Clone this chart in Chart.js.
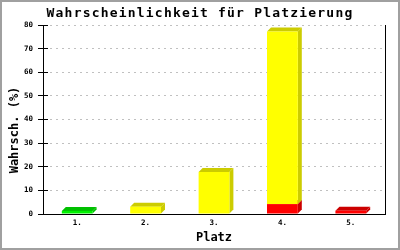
<!DOCTYPE html>
<html>
<head>
<meta charset="utf-8">
<script src="https://cdn.jsdelivr.net/npm/chart.js@4"></script>
<style>
  html, body { margin: 0; padding: 0; background: #fff; }
</style>
</head>
<body>
<canvas id="platz" width="400" height="250"></canvas>
<script>
// Daten
const places = ['1.', '2.', '3.', '4.', '5.'];
const redValues = [0, 0, 0, 4.2, 1.4];
const yellowValues = [0, 3.1, 17.8, 73.0, 0];
const greenValues = [1.3, 0, 0, 0, 0];
const yMax = 80;
const yStep = 10;

const titleText = 'Wahrscheinlichkeit für Platzierung';
const yTitleText = 'Wahrsch. (%)';
const xTitleText = 'Platz';

const mono = "'DejaVu Sans Mono', 'Liberation Mono', monospace";
const depth = 4;

function crisp(v) { return Math.round(v - 0.5) + 0.5; }

// 3D-Seiten und Deckflaechen hinter die Balken malen
const bars3d = {
    id: 'bars3d',
    beforeDatasetsDraw(chart) {
        const ctx = chart.ctx;
        ctx.save();
        chart.data.datasets.forEach((ds, i) => {
            const meta = chart.getDatasetMeta(i);
            meta.data.forEach((bar, j) => {
                if (!ds.data[j]) return;
                const p = bar.getProps(['x', 'y', 'base', 'width'], true);
                const l = p.x - p.width / 2, r = p.x + p.width / 2;
                ctx.fillStyle = ds.sideColor;
                ctx.beginPath();
                ctx.moveTo(r, p.base);
                ctx.lineTo(r + depth, p.base - depth);
                ctx.lineTo(r + depth, p.y - depth);
                ctx.lineTo(r, p.y);
                ctx.closePath();
                ctx.fill();
                ctx.beginPath();
                ctx.moveTo(l, p.y);
                ctx.lineTo(l + depth, p.y - depth);
                ctx.lineTo(r + depth, p.y - depth);
                ctx.lineTo(r, p.y);
                ctx.closePath();
                ctx.fill();
            });
        });
        ctx.restore();
    }
};

// Rahmen, Titel, y-Titel, Ticks rechts der Achse
const frame = {
    id: 'frame',
    afterDraw(chart) {
        const ctx = chart.ctx;
        const area = chart.chartArea;
        const ys = chart.scales.y;
        ctx.save();
        ctx.strokeStyle = '#000';
        ctx.lineWidth = 1;
        ctx.beginPath();
        const rx = crisp(area.right);
        ctx.moveTo(rx, area.top);
        ctx.lineTo(rx, area.bottom);
        ys.ticks.forEach(t => {
            const py = crisp(ys.getPixelForValue(t.value));
            ctx.moveTo(area.left, py);
            ctx.lineTo(area.left + 5, py);
        });
        ctx.stroke();

        ctx.strokeStyle = '#a0a0a0';
        ctx.lineWidth = 2;
        ctx.strokeRect(1, 1, chart.width - 2, chart.height - 2);

        ctx.fillStyle = '#000';
        ctx.font = 'bold 13px ' + mono;
        ctx.letterSpacing = '1.2px';
        ctx.textAlign = 'center';
        ctx.textBaseline = 'alphabetic';
        ctx.fillText(titleText, chart.width / 2, 17);

        ctx.letterSpacing = '0px';
        ctx.font = 'bold 12px ' + mono;
        ctx.translate(18, 130);
        ctx.rotate(-Math.PI / 2);
        ctx.fillText(yTitleText, 0, 0);
        ctx.restore();
    }
};

new Chart(document.getElementById('platz'), {
    type: 'bar',
    data: {
        labels: places,
        datasets: [{
            label: 'rot',
            data: redValues,
            backgroundColor: '#ff0000',
            sideColor: '#cc0000'
        }, {
            label: 'gelb',
            data: yellowValues,
            backgroundColor: '#ffff00',
            sideColor: '#cccc00'
        }, {
            label: 'grün',
            data: greenValues,
            backgroundColor: '#00f000',
            sideColor: '#00c000'
        }]
    },
    options: {
        responsive: false,
        animation: false,
        barPercentage: 0.5,
        categoryPercentage: 0.9,
        layout: { padding: { top: 25, left: 2, right: 15, bottom: 2 } },
        plugins: {
            legend: { display: false },
            tooltip: { enabled: false },
            title: { display: false }
        },
        scales: {
            x: {
                stacked: true,
                grid: { display: false, drawTicks: false },
                border: { color: '#000', width: 1 },
                ticks: { color: '#000', padding: 5, font: { family: mono, size: 7.5, weight: 'bold' } },
                title: {
                    display: true,
                    text: xTitleText,
                    color: '#000',
                    font: { family: mono, size: 12, weight: 'bold' },
                    padding: { top: 0, bottom: 3 }
                },
                afterFit(scale) { scale.height = 34; }
            },
            y: {
                stacked: true,
                min: 0,
                max: yMax,
                grid: {
                    color: ctx => ctx.tick && ctx.tick.value === 0 ? 'rgba(0,0,0,0)' : '#c0c0c0',
                    tickColor: '#000',
                    tickLength: 5,
                    lineWidth: 1
                },
                border: { color: '#000', width: 1, dash: [2, 4] },
                ticks: {
                    stepSize: yStep,
                    color: '#000',
                    padding: 5,
                    font: { family: mono, size: 7.5, weight: 'bold' }
                },
                afterFit(scale) { scale.width = 41; }
            }
        }
    },
    plugins: [bars3d, frame]
});
</script>
</body>
</html>
